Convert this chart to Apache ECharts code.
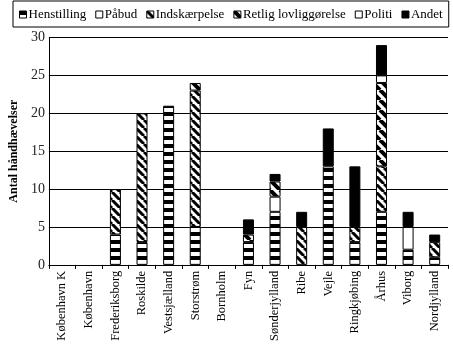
<!DOCTYPE html>
<html><head><meta charset="utf-8">
<script src="https://cdn.jsdelivr.net/npm/echarts@6/dist/echarts.min.js"></script>
<style>html,body{margin:0;padding:0;background:#fff}#c{width:453px;height:344px}</style>
</head><body><div id="c"></div>
<script>
var categories = ['København K','København','Frederiksborg','Roskilde','Vestsjælland','Storstrøm','Bornholm','Fyn','Sønderjylland','Ribe','Vejle','Ringkjøbing','Århus','Viborg','Nordjylland'];
var seriesNames = ['Henstilling','Påbud','Indskærpelse','Retlig lovliggørelse','Politi','Andet'];
var henstilling  = [0,0,4,3,21,5,0,3,7,0,13,3,7,2,1];
var paabud       = [0,0,0,0,0,0,0,0,2,0,0,0,0,3,0];
var indskaerpelse= [0,0,6,17,0,18,0,0,0,5,0,2,6,0,2];
var retlig       = [0,0,0,0,0,1,0,1,2,0,0,0,11,0,0];
var politi       = [0,0,0,0,0,0,0,0,0,0,0,0,1,0,0];
var andet        = [0,0,0,0,0,0,0,2,1,2,5,8,4,2,1];
var yTicks = [0,5,10,15,20,25,30];

function pat(kind){
  var c=document.createElement('canvas'); var g=c.getContext('2d');
  if(kind==='h'){c.width=8;c.height=8;g.fillStyle='#fff';g.fillRect(0,0,8,8);g.fillStyle='#000';g.fillRect(0,0,8,4);}
  else if(kind==='d'){c.width=8;c.height=8;g.fillStyle='#fff';g.fillRect(0,0,8,8);g.strokeStyle='#000';g.lineWidth=3;
    g.beginPath();for(var k=-16;k<=16;k+=8){g.moveTo(k,0);g.lineTo(k+8,8);}g.stroke();}
  else if(kind==='d2'){c.width=10;c.height=10;g.fillStyle='#fff';g.fillRect(0,0,10,10);g.strokeStyle='#000';g.lineWidth=4;
    g.beginPath();for(var k=-20;k<=20;k+=10){g.moveTo(k,0);g.lineTo(k+10,10);}g.stroke();}
  return {image:c,repeat:'repeat'};
}
var fills=[pat('h'),'#ffffff',pat('d'),pat('d2'),'#ffffff','#000000'];
var datas=[henstilling,paabud,indskaerpelse,retlig,politi,andet];
var font='"Liberation Serif","Times New Roman",serif';
var series=seriesNames.map(function(n,i){
  return {name:n,type:'bar',stack:'a',barWidth:11,data:datas[i].map(function(v){return v===0?null:v;}),
    itemStyle:{color:fills[i],borderColor:'#000',borderWidth:1},emphasis:{disabled:true}};
});
var chart=echarts.init(document.getElementById('c'),null,{renderer:'canvas'});
chart.setOption({
  animation:false,
  grid:{left:39,right:5,top:37.5,bottom:74},
  legend:{top:1,left:13,width:427,padding:[7,6,6,6],itemGap:9,itemWidth:7,itemHeight:7,
    borderColor:'#000',borderWidth:1,icon:'rect',
    textStyle:{fontFamily:font,fontSize:13,color:'#000',padding:[0,0,0,-3]},
    itemStyle:{borderColor:'#000',borderWidth:1},data:seriesNames},
  xAxis:{type:'category',data:categories,
    axisLine:{lineStyle:{color:'#000'}},axisTick:{show:true,length:4,lineStyle:{color:'#000'}},
    axisLabel:{rotate:90,interval:0,fontFamily:font,fontSize:12.5,color:'#000',margin:6}},
  yAxis:{type:'value',min:yTicks[0],max:yTicks[yTicks.length-1],interval:5,
    name:'Antal håndhævelser',nameLocation:'middle',nameGap:24,
    nameTextStyle:{fontFamily:font,fontSize:12,fontWeight:'bold',color:'#000'},
    axisLine:{show:true,lineStyle:{color:'#000'}},axisTick:{show:false},
    axisLabel:{fontFamily:font,fontSize:14,color:'#222',margin:4},
    splitLine:{lineStyle:{color:'#000',width:1}}},
  series:series
});
</script></body></html>
